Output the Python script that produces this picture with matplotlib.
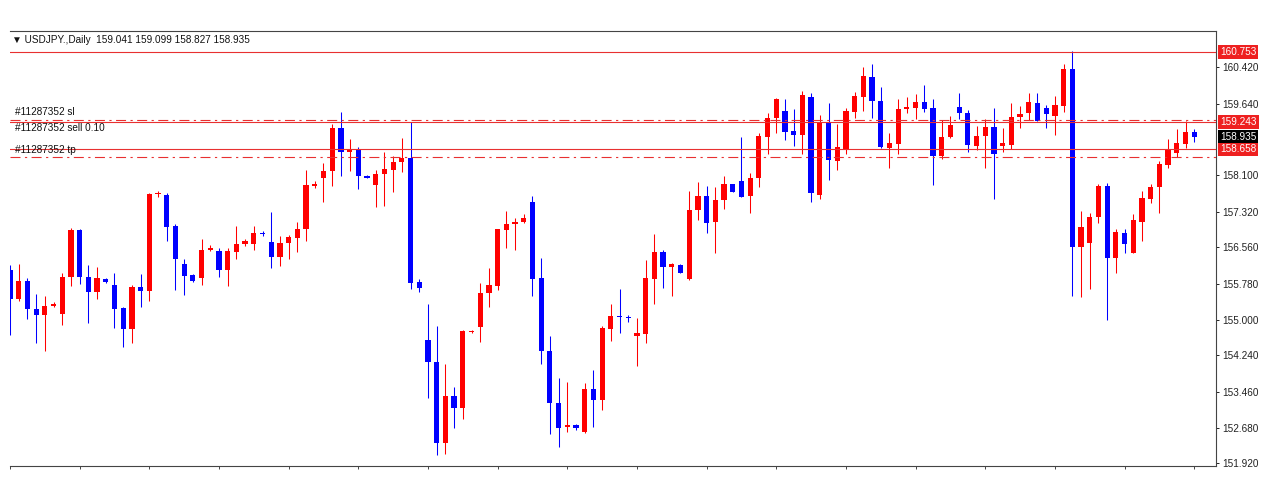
import matplotlib
matplotlib.use("Agg")
import matplotlib.pyplot as plt
import matplotlib.transforms as mtransforms

plt.rcParams["font.family"] = ["Liberation Sans", "DejaVu Sans"]

# USDJPY daily candles
opens = [
    156.06, 155.45, 155.84, 155.23, 155.11, 155.30, 155.13, 155.92, 156.93, 155.93,
    155.60, 155.88, 155.75, 155.26, 154.80, 155.70, 155.62, 157.70, 157.68, 157.01,
    156.20, 155.96, 155.89, 156.49, 156.47, 156.06, 156.46, 156.62, 156.63, 156.86,
    156.68, 156.35, 156.65, 156.76, 156.96, 157.88, 158.05, 158.20, 159.11, 158.60,
    158.66, 158.09, 157.89, 158.13, 158.21, 158.38, 158.47, 155.81, 154.57, 154.09,
    152.36, 153.37, 153.11, 154.73, 154.85, 155.58, 155.73, 156.93, 157.06, 157.09,
    157.52, 155.89, 154.34, 153.21, 152.69, 152.74, 152.60, 153.52, 153.28, 154.80,
    155.09, 155.07, 154.66, 154.70, 155.88, 156.45, 156.14, 156.18, 155.87, 157.35,
    157.66, 157.09, 157.57, 157.92, 157.99, 157.66, 158.04, 158.92, 159.33, 159.49,
    159.05, 158.97, 159.79, 157.68, 159.22, 158.41, 158.67, 159.47, 159.79, 160.22,
    159.70, 158.68, 158.77, 159.52, 159.55, 159.68, 159.54, 158.52, 158.93, 159.56,
    159.45, 158.74, 158.95, 159.15, 158.74, 158.75, 159.35, 159.45, 159.66, 159.54,
    159.38, 159.60, 160.38, 156.56, 156.66, 157.21, 157.88, 156.32, 156.87, 156.44,
    157.09, 157.59, 157.85, 158.32, 158.59, 158.77, 159.041,
]
highs = [
    156.18, 156.20, 155.90, 155.55, 155.51, 155.38, 156.01, 156.97, 156.95, 156.17,
    156.14, 155.90, 156.01, 155.28, 155.75, 155.98, 157.73, 157.77, 157.72, 157.06,
    156.30, 155.98, 156.73, 156.61, 156.54, 156.54, 157.01, 156.74, 157.01, 156.90,
    157.31, 156.80, 156.82, 157.09, 158.21, 157.98, 158.36, 159.20, 159.47, 158.88,
    158.72, 158.11, 158.22, 158.61, 158.52, 158.91, 159.25, 155.87, 155.34, 154.87,
    154.06, 153.55, 154.78, 154.79, 155.80, 156.11, 156.96, 157.34, 157.18, 157.27,
    157.66, 156.32, 154.65, 153.75, 153.67, 152.76, 153.65, 153.92, 154.87, 155.34,
    155.66, 155.10, 155.05, 156.28, 156.84, 156.50, 156.23, 156.19, 157.77, 157.96,
    157.87, 157.86, 158.09, 157.92, 158.92, 158.15, 159.00, 159.43, 159.77, 159.75,
    159.52, 159.92, 159.86, 159.40, 159.66, 159.20, 159.54, 159.88, 160.43, 160.49,
    159.99, 159.02, 159.75, 159.79, 159.84, 160.04, 159.74, 159.29, 159.38, 159.86,
    159.50, 159.16, 159.31, 159.54, 159.12, 159.65, 159.59, 159.86, 159.86, 159.61,
    159.80, 160.49, 160.78, 157.34, 157.30, 157.92, 157.94, 156.96, 156.96, 157.27,
    157.77, 157.92, 158.42, 158.88, 159.09, 159.27, 159.099,
]
lows = [
    154.67, 155.41, 155.01, 154.50, 154.33, 155.28, 154.90, 155.73, 155.78, 154.94,
    155.45, 155.79, 154.82, 154.41, 154.51, 155.27, 155.41, 157.64, 156.69, 155.64,
    155.54, 155.82, 155.75, 156.47, 155.93, 155.73, 156.30, 156.59, 156.51, 156.80,
    156.11, 156.16, 156.30, 156.46, 156.69, 157.84, 157.52, 157.88, 158.09, 158.20,
    157.81, 158.04, 157.43, 157.44, 157.75, 158.18, 155.66, 155.60, 153.32, 152.10,
    152.13, 152.68, 152.87, 154.72, 154.53, 155.28, 155.64, 156.54, 156.51, 157.07,
    155.52, 154.05, 152.54, 152.28, 152.60, 152.64, 152.57, 152.69, 153.06, 154.55,
    154.71, 154.95, 154.01, 154.51, 155.33, 155.69, 155.52, 156.00, 155.86, 157.14,
    156.86, 156.44, 157.38, 157.75, 157.64, 157.29, 157.86, 158.57, 159.02, 158.86,
    158.73, 158.55, 157.54, 157.59, 158.00, 158.22, 158.57, 159.33, 159.48, 159.33,
    158.68, 158.27, 158.55, 159.43, 159.31, 159.47, 157.89, 158.45, 158.90, 159.31,
    158.60, 158.65, 158.25, 157.59, 158.60, 158.67, 159.11, 159.29, 159.27, 159.11,
    158.97, 159.47, 155.51, 155.48, 155.66, 157.07, 155.00, 156.01, 156.44, 156.43,
    156.69, 157.50, 157.29, 158.25, 158.50, 158.68, 158.827,
]
closes = [
    155.45, 155.84, 155.23, 155.11, 155.30, 155.35, 155.93, 156.93, 155.92, 155.60,
    155.89, 155.81, 155.24, 154.80, 155.71, 155.61, 157.70, 157.72, 157.00, 156.30,
    155.94, 155.84, 156.50, 156.54, 156.07, 156.47, 156.63, 156.70, 156.87, 156.84,
    156.35, 156.66, 156.78, 156.96, 157.89, 157.92, 158.19, 159.11, 158.60, 158.67,
    158.08, 158.05, 158.13, 158.23, 158.39, 158.47, 155.80, 155.68, 154.09, 152.36,
    153.37, 153.11, 154.76, 154.76, 155.58, 155.75, 156.94, 157.06, 157.11, 157.19,
    155.88, 154.33, 153.21, 152.68, 152.74, 152.67, 153.52, 153.28, 154.82, 155.08,
    155.06, 155.03, 154.71, 155.89, 156.45, 156.14, 156.19, 156.00, 157.36, 157.66,
    157.07, 157.57, 157.91, 157.75, 157.64, 158.04, 158.95, 159.33, 159.73, 159.04,
    158.97, 159.83, 157.72, 159.25, 158.43, 158.70, 159.48, 159.80, 160.24, 159.70,
    158.72, 158.79, 159.52, 159.56, 159.68, 159.52, 158.52, 158.93, 159.18, 159.43,
    158.75, 158.95, 159.15, 158.57, 158.79, 159.35, 159.42, 159.68, 159.27, 159.42,
    159.61, 160.38, 156.56, 156.99, 157.21, 157.88, 156.32, 156.89, 156.63, 157.14,
    157.62, 157.86, 158.35, 158.66, 158.79, 159.04, 158.935,
]

price_ticks = [160.42, 159.64, 158.10, 157.32, 156.56, 155.78, 155.00, 154.24, 153.46, 152.68, 151.92]
level_solid = [160.753, 159.243, 158.658]
level_dashdot = [159.30, 158.50]
last_price = 158.935
order_id = "#11287352"

UP = "#ff0000"
DOWN = "#0000ff"
LINE = "#e83030"

fig = plt.figure(figsize=(12.74, 5), dpi=100)
ax = fig.add_axes([10 / 1274, 34 / 500, 1206 / 1274, 435 / 500])

# candles
n = len(opens)
xs = list(range(n))
colors = [UP if c >= o else DOWN for o, c in zip(opens, closes)]
ax.vlines(xs, lows, highs, colors=colors, linewidth=0.75, zorder=3)
min_h = 0.03
heights = [max(abs(c - o), min_h) for o, c in zip(opens, closes)]
bottoms = [min(o, c) - (h - abs(c - o)) / 2 for o, c, h in zip(opens, closes, heights)]
ax.bar(xs, heights, bottom=bottoms, width=0.6, color=colors, linewidth=0, zorder=4)

# horizontal levels
for p in level_solid:
    ax.axhline(p, color=LINE, linewidth=0.8, zorder=5)
for p in level_dashdot:
    ax.axhline(p, color=LINE, linewidth=0.8, linestyle=(0, (9, 4, 2, 4)), zorder=5)

ax.set_xlim(0, 138.5)
ax.set_ylim(151.863, 161.20)

# axes styling like MT4
ax.spines["left"].set_visible(False)
for s in ("top", "right", "bottom"):
    ax.spines[s].set_color("#444444")
    ax.spines[s].set_linewidth(0.8)
ax.yaxis.tick_right()
ax.set_yticks(price_ticks)
ax.set_yticklabels([f"{p:.3f}" for p in price_ticks])
ax.tick_params(axis="y", direction="out", length=2.2, width=0.7, pad=2.2,
               labelsize=7.2, colors="#222222")
ax.set_xticks(list(range(0, n, 8)))
ax.tick_params(axis="x", direction="out", length=2.5, width=0.7, labelbottom=False,
               colors="#444444")

# price tags on the right
trans = mtransforms.blended_transform_factory(ax.transAxes, ax.transData)
for p in level_solid:
    ax.text(1.0035, p, f"{p:.3f}", transform=trans, ha="left", va="center",
            fontsize=7.2, color="white", zorder=10, clip_on=False,
            bbox=dict(boxstyle="square,pad=0.18", fc="#ee2020", ec="none"))
ax.text(1.0035, last_price, f"{last_price:.3f}", transform=trans, ha="left", va="center",
        fontsize=7.2, color="white", zorder=10, clip_on=False,
        bbox=dict(boxstyle="square,pad=0.18", fc="black", ec="none"))

# header and order labels
fig.text(12 / 1274, 1 - 40 / 500,
         "\u25bc USDJPY.,Daily  %.3f %.3f %.3f %.3f" % (opens[-1], highs[-1], lows[-1], closes[-1]),
         fontsize=7.2, color="#111111", va="center", ha="left")
fig.text(15 / 1274, 1 - 112 / 500, order_id + " sl", fontsize=7.2, color="#111111", va="center")
fig.text(15 / 1274, 1 - 128 / 500, order_id + " sell 0.10", fontsize=7.2, color="#111111", va="center")
fig.text(15 / 1274, 1 - 150 / 500, order_id + " tp", fontsize=7.2, color="#111111", va="center")

fig.savefig("out.png", dpi=100)
